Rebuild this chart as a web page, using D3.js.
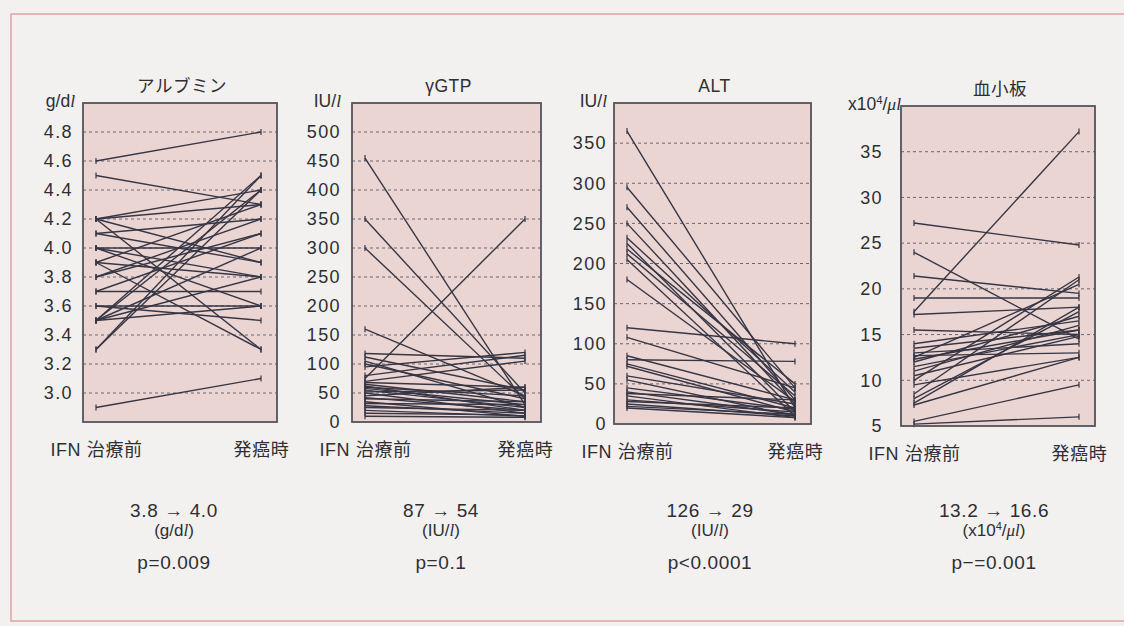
<!DOCTYPE html>
<html>
<head>
<meta charset="utf-8">
<script src="https://cdn.jsdelivr.net/npm/d3@7"></script>
<style>
    body { margin: 0; background: #f2f1ef; }
    svg { display: block; font-family: "Liberation Sans", "Noto Sans CJK JP", sans-serif; }
</style>
</head>
<body>
<script>
// panel titles and x categories
const panelTitles = ["アルブミン", "γGTP", "ALT", "血小板"];
const timeLabels = ["IFN 治療前", "発癌時"];

// axis extents and tick values
const yDomains = [[2.8, 5.0], [0, 550], [0, 400], [5, 40]];
const albTicks = [3.0, 3.2, 3.4, 3.6, 3.8, 4.0, 4.2, 4.4, 4.6, 4.8];
const gtpTicks = [0, 50, 100, 150, 200, 250, 300, 350, 400, 450, 500];
const altTicks = [0, 50, 100, 150, 200, 250, 300, 350];
const pltTicks = [5, 10, 15, 20, 25, 30, 35];

// albumin (g/dl), before IFN -> at HCC onset
const albBefore = [4.6, 4.5, 4.2, 4.2, 4.2, 4.2, 4.1, 4.1, 4.0, 4.0, 4.0, 3.9, 3.9, 3.9, 3.8, 3.8, 3.7, 3.7, 3.6, 3.6, 3.5, 3.5, 3.5, 3.5, 3.5, 3.3, 3.3, 2.9];
const albAfter  = [4.8, 4.3, 4.4, 4.3, 3.9, 3.3, 4.2, 3.9, 3.8, 4.0, 3.6, 4.3, 3.3, 3.8, 4.1, 4.2, 3.7, 4.1, 3.6, 3.5, 4.5, 4.4, 4.0, 3.8, 3.6, 4.5, 4.4, 3.1];

// gamma GTP (IU/l)
const gtpBefore = [455, 350, 300, 160, 118, 112, 105, 100, 95, 80, 75, 70, 68, 65, 62, 60, 58, 55, 52, 50, 45, 42, 40, 35, 32, 28, 25, 20, 15, 10];
const gtpAfter  = [30, 50, 40, 45, 110, 55, 25, 40, 120, 115, 350, 105, 60, 35, 20, 45, 30, 25, 55, 15, 60, 20, 35, 10, 30, 15, 20, 10, 12, 8];

// ALT (IU/l)
const altBefore = [365, 295, 270, 250, 232, 225, 218, 212, 205, 180, 120, 108, 85, 80, 75, 72, 60, 55, 45, 40, 38, 35, 30, 28, 25, 22, 20];
const altAfter  = [20, 45, 30, 25, 40, 15, 50, 35, 10, 28, 100, 45, 30, 78, 20, 15, 25, 10, 18, 12, 30, 8, 15, 20, 10, 12, 8];

// platelets (x10^4/ul)
const pltBefore = [17.5, 27.2, 24.0, 21.4, 19.0, 17.2, 15.5, 5.5, 5.2, 7.5, 8.0, 8.5, 10.0, 12.5, 11.0, 12.0, 13.0, 12.7, 9.5, 7.3, 11.5, 13.5, 12.3, 10.5, 14.0];
const pltAfter  = [37.2, 24.8, 14.5, 19.5, 19.0, 18.0, 15.0, 9.5, 6.0, 18.0, 17.5, 21.0, 21.3, 20.5, 16.0, 17.0, 14.0, 13.0, 12.5, 12.5, 15.0, 15.5, 15.5, 14.8, 16.5];

// summary under each panel
const meanTexts = ["3.8 → 4.0", "87 → 54", "126 → 29", "13.2 → 16.6"];
const pTexts = ["p=0.009", "p=0.1", "p<0.0001", "p−=0.001"];

const W = 1124, H = 626;
const lineColor = "#363645";
const textColor = "#2e2e33";

const svg = d3.select("body").append("svg").attr("width", W).attr("height", H);

svg.append("rect").attr("width", W).attr("height", H).attr("fill", "#f2f1ef");
svg.append("rect")
    .attr("x", 11).attr("y", 14)
    .attr("width", W + 20).attr("height", 607)
    .attr("fill", "none")
    .attr("stroke", "#dda4a4")
    .attr("stroke-width", 1.5);

let layout = [
    { x0: 83, x1: 277, y0: 103, y1: 422, pad: 10, unitDx: 8, cx: 174 },
    { x0: 352, x1: 541, y0: 103, y1: 422, pad: 11, unitDx: 11, cx: 441 },
    { x0: 614, x1: 811, y0: 103, y1: 424, pad: 7, unitDx: 7, cx: 710 },
    { x0: 901, x1: 1095, y0: 106, y1: 426, pad: 18, unitDx: 0, cx: 994 }
];
let tickSets = [albTicks, gtpTicks, altTicks, pltTicks];
let beforeSets = [albBefore, gtpBefore, altBefore, pltBefore];
let afterSets = [albAfter, gtpAfter, altAfter, pltAfter];
let formats = [d3.format(".1f"), d3.format("d"), d3.format("d"), d3.format("d")];

// unit labels with italic l / superscript, drawn as tspans
function unitLabel(sel, i, wrap) {
    let open = wrap ? "(" : "", close = wrap ? ")" : "";
    if (i == 0) {
        sel.append("tspan").text(open + "g/d");
        sel.append("tspan").attr("font-style", "italic").attr("font-family", "Liberation Serif").text("l");
    } else if (i == 3) {
        sel.append("tspan").text(open + "x10");
        sel.append("tspan").attr("font-size", "0.65em").attr("dy", "-0.5em").text("4");
        sel.append("tspan").attr("dy", "0.35em").text("/");
        sel.append("tspan").attr("font-style", "italic").attr("font-family", "Liberation Serif").text("μl");
    } else {
        sel.append("tspan").text(open + "IU/");
        sel.append("tspan").attr("font-style", "italic").attr("font-family", "Liberation Serif").text("l");
    }
    if (wrap) sel.append("tspan").text(close);
}

layout.forEach(function(p, i) {
    let g = svg.append("g").attr("class", "panel");
    let y = d3.scaleLinear().domain(yDomains[i]).range([p.y1, p.y0]);
    let x = d3.scalePoint().domain(timeLabels).range([p.x0 + 13, p.x1 - 16]);

    g.append("rect")
        .attr("x", p.x0).attr("y", p.y0)
        .attr("width", p.x1 - p.x0).attr("height", p.y1 - p.y0)
        .attr("fill", "#ebd5d2");

    // dashed grid
    g.selectAll("line.grid")
        .data(tickSets[i].filter(t => t > yDomains[i][0]))
        .enter().append("line").attr("class", "grid")
        .attr("x1", p.x0).attr("x2", p.x1)
        .attr("y1", d => y(d)).attr("y2", d => y(d))
        .attr("stroke", "#6a6670")
        .attr("stroke-width", 1)
        .attr("stroke-dasharray", "3,3");

    let pairs = d3.zip(beforeSets[i], afterSets[i]);
    g.selectAll("line.pair")
        .data(pairs)
        .enter().append("line").attr("class", "pair")
        .attr("x1", x(timeLabels[0])).attr("x2", x(timeLabels[1]))
        .attr("y1", d => y(d[0])).attr("y2", d => y(d[1]))
        .attr("stroke", lineColor)
        .attr("stroke-width", 1.4);

    // little end caps
    let ends = [];
    pairs.forEach(d => {
        ends.push([timeLabels[0], d[0]]);
        ends.push([timeLabels[1], d[1]]);
    });
    g.selectAll("line.cap")
        .data(ends)
        .enter().append("line").attr("class", "cap")
        .attr("x1", d => x(d[0])).attr("x2", d => x(d[0]))
        .attr("y1", d => y(d[1]) - 3).attr("y2", d => y(d[1]) + 3)
        .attr("stroke", lineColor)
        .attr("stroke-width", 1.2);

    g.append("rect")
        .attr("x", p.x0).attr("y", p.y0)
        .attr("width", p.x1 - p.x0).attr("height", p.y1 - p.y0)
        .attr("fill", "none")
        .attr("stroke", "#55535a")
        .attr("stroke-width", 1.8);

    let yAxis = g.append("g")
        .attr("transform", "translate(" + p.x0 + ",0)")
        .call(d3.axisLeft(y).tickValues(tickSets[i]).tickSize(0).tickPadding(p.pad).tickFormat(formats[i]));
    yAxis.select(".domain").remove();
    yAxis.selectAll("text")
        .attr("font-size", 18)
        .attr("letter-spacing", 1.4)
        .attr("fill", textColor)
        .attr("font-family", "Liberation Sans");

    let xAxis = g.append("g")
        .attr("transform", "translate(0," + p.y1 + ")")
        .call(d3.axisBottom(x).tickSize(0).tickPadding(21));
    xAxis.select(".domain").remove();
    xAxis.selectAll("text")
        .attr("font-size", 18)
        .attr("letter-spacing", 0.6)
        .attr("fill", textColor)
        .attr("font-family", "Liberation Sans, Noto Sans CJK JP");

    g.append("text")
        .attr("x", (p.x0 + p.x1) / 2 + 2).attr("y", 92 + (p.y0 - 103))
        .attr("text-anchor", "middle")
        .attr("font-size", 17.5)
        .attr("letter-spacing", 0.5)
        .attr("fill", textColor)
        .text(panelTitles[i]);

    let unit = g.append("text")
        .attr("x", p.x0 - p.unitDx).attr("y", 107 + (p.y0 - 103))
        .attr("text-anchor", "end")
        .attr("font-size", 17.5)
        .attr("fill", textColor);
    unitLabel(unit, i, false);

    g.append("text")
        .attr("x", p.cx).attr("y", 517)
        .attr("text-anchor", "middle")
        .attr("font-size", 19)
        .attr("letter-spacing", 0.6)
        .attr("fill", textColor)
        .text(meanTexts[i]);

    let unit2 = g.append("text")
        .attr("x", p.cx).attr("y", 536)
        .attr("text-anchor", "middle")
        .attr("font-size", 17)
        .attr("fill", textColor);
    unitLabel(unit2, i, true);

    g.append("text")
        .attr("x", p.cx).attr("y", 569)
        .attr("text-anchor", "middle")
        .attr("font-size", 19)
        .attr("letter-spacing", 0.6)
        .attr("fill", textColor)
        .text(pTexts[i]);
});
</script>
</body>
</html>
